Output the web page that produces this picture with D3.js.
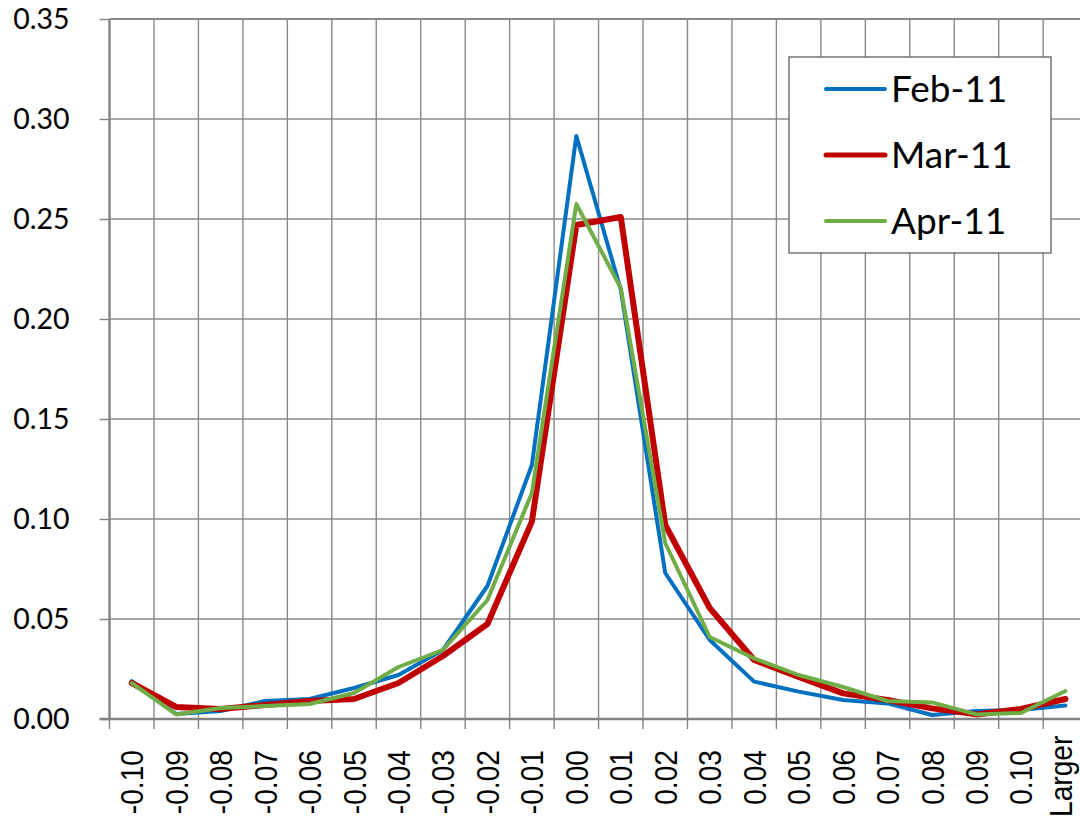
<!DOCTYPE html>
<html><head><meta charset="utf-8">
<script src="https://cdnjs.cloudflare.com/ajax/libs/d3/7.8.5/d3.min.js"></script>
<style>
html,body{margin:0;padding:0;background:#fff;overflow:hidden;}
svg{display:block;}
</style></head>
<body>
<svg id="chart" width="1080" height="824"></svg>
<script>
const categories = ["-0.10","-0.09","-0.08","-0.07","-0.06","-0.05","-0.04","-0.03","-0.02","-0.01","0.00","0.01","0.02","0.03","0.04","0.05","0.06","0.07","0.08","0.09","0.10","Larger"];
const feb11 = [0.019,0.0025,0.004,0.009,0.010,0.0155,0.022,0.0345,0.0665,0.127,0.2915,0.2145,0.073,0.0395,0.0187,0.0137,0.0095,0.0078,0.002,0.004,0.0045,0.0067];
const mar11 = [0.018,0.006,0.005,0.007,0.009,0.010,0.018,0.0315,0.0475,0.0987,0.247,0.251,0.097,0.0555,0.0295,0.021,0.0128,0.0095,0.0053,0.0023,0.005,0.010];
const apr11 = [0.018,0.0023,0.0055,0.0065,0.0075,0.013,0.026,0.0345,0.0595,0.113,0.2575,0.2155,0.088,0.041,0.0303,0.022,0.016,0.009,0.0083,0.0023,0.003,0.014];
const seriesNames = ["Feb-11","Mar-11","Apr-11"];
const yTicks = [0,0.05,0.10,0.15,0.20,0.25,0.30,0.35];

(function(){
const series = [
  {name: seriesNames[0], values: feb11, color: "#0070C0", width: 4},
  {name: seriesNames[1], values: mar11, color: "#C00000", width: 6},
  {name: seriesNames[2], values: apr11, color: "#70AD47", width: 4}
];

const svg = d3.select("#chart");
const left = 109.5, bandW = 44.46, plotTop = 19, plotBottom = 719;
const x = d3.scaleBand().domain(categories).range([left, left + bandW*categories.length]).padding(0);
const y = d3.scaleLinear().domain([0,0.35]).range([plotBottom, plotTop]);
const gridColor = "#8a8a8a";

// horizontal gridlines
svg.append("g").selectAll("line").data(yTicks.slice(1)).join("line")
  .attr("x1", left).attr("x2", 1080)
  .attr("y1", d=>y(d)).attr("y2", d=>y(d))
  .attr("stroke", gridColor).attr("stroke-width", d=> d===0.35 ? 2.2 : 1.4);

// vertical gridlines at band boundaries
const bounds = categories.map(c => x(c) + x.bandwidth());
svg.append("g").selectAll("line").data(bounds).join("line")
  .attr("x1", d=>d).attr("x2", d=>d)
  .attr("y1", plotTop).attr("y2", plotBottom)
  .attr("stroke", gridColor).attr("stroke-width", 1.4);

// Y axis
const yAxis = d3.axisLeft(y).tickValues(yTicks).tickFormat(d3.format(".2f")).tickSize(10).tickPadding(30);
const gy = svg.append("g").attr("transform", `translate(${left},0)`).call(yAxis);
gy.select(".domain").attr("stroke", "#828282").attr("stroke-width", 2.4).attr("d", `M0,${plotTop}V${plotBottom}`);
gy.selectAll(".tick line").attr("stroke", "#828282").attr("stroke-width", 1.4);
gy.selectAll(".tick text").attr("font-family", "Lato, 'Open Sans', sans-serif").attr("font-size", 28.5).attr("fill", "#000");

// X axis line and ticks at boundaries
svg.append("line").attr("x1", left-10).attr("x2", 1080).attr("y1", plotBottom).attr("y2", plotBottom)
  .attr("stroke", "#828282").attr("stroke-width", 2.4);
svg.append("g").selectAll("line").data([left].concat(bounds)).join("line")
  .attr("x1", d=>d).attr("x2", d=>d).attr("y1", plotBottom).attr("y2", plotBottom+10)
  .attr("stroke", "#828282").attr("stroke-width", 1.4);

// X labels via axis
const xs = 0.88;
const xAxis = d3.axisBottom(x).tickSize(0).tickPadding(0);
const gx = svg.append("g").attr("transform", `translate(0,${plotBottom})`).call(xAxis);
gx.select(".domain").remove();
gx.selectAll(".tick text")
  .attr("font-family", "'Liberation Sans', Arial, sans-serif")
  .attr("font-size", 32).attr("fill", "#000")
  .attr("text-anchor", "end").attr("dy", "0.36em").attr("y", 0)
  .attr("transform", `translate(0,31) rotate(-90) scale(${xs},1)`);
gx.selectAll(".tick text").each(function(){
  const len = this.getComputedTextLength()*xs;
  if (len > 72) {
    d3.select(this).attr("text-anchor","start").attr("dy","0.3em")
      .attr("transform", `translate(-3,${817-plotBottom}) rotate(-90) scale(${xs},1)`);
  }
});

// lines
const line = d3.line().x((d,i)=>x(categories[i]) + x.bandwidth()/2).y(d=>y(d));
svg.append("g").selectAll("path").data(series).join("path")
  .attr("d", d=>line(d.values)).attr("fill","none")
  .attr("stroke", d=>d.color).attr("stroke-width", d=>d.width)
  .attr("stroke-linejoin","round").attr("stroke-linecap","round");

// legend
const lg = svg.append("g");
lg.append("rect").attr("x", 789).attr("y", 57).attr("width", 262).attr("height", 196)
  .attr("fill", "#fff").attr("stroke", "#6b6b6b").attr("stroke-width", 1.4);
const rows = lg.selectAll("g.row").data(series).join("g").attr("class","row")
  .attr("transform", (d,i)=>`translate(0,${89 + i*66})`);
rows.append("line").attr("x1", 826).attr("x2", 885).attr("y1",0).attr("y2",0)
  .attr("stroke", d=>d.color).attr("stroke-width", d=>d.name==="Mar-11"?5:4).attr("stroke-linecap","round");
rows.append("text").attr("x", 891).attr("y", 0).attr("dy","0.36em")
  .attr("font-family", "Lato, 'Open Sans', sans-serif").attr("font-size", 37).attr("fill","#000")
  .text(d=>d.name);
})();
</script>
</body></html>
